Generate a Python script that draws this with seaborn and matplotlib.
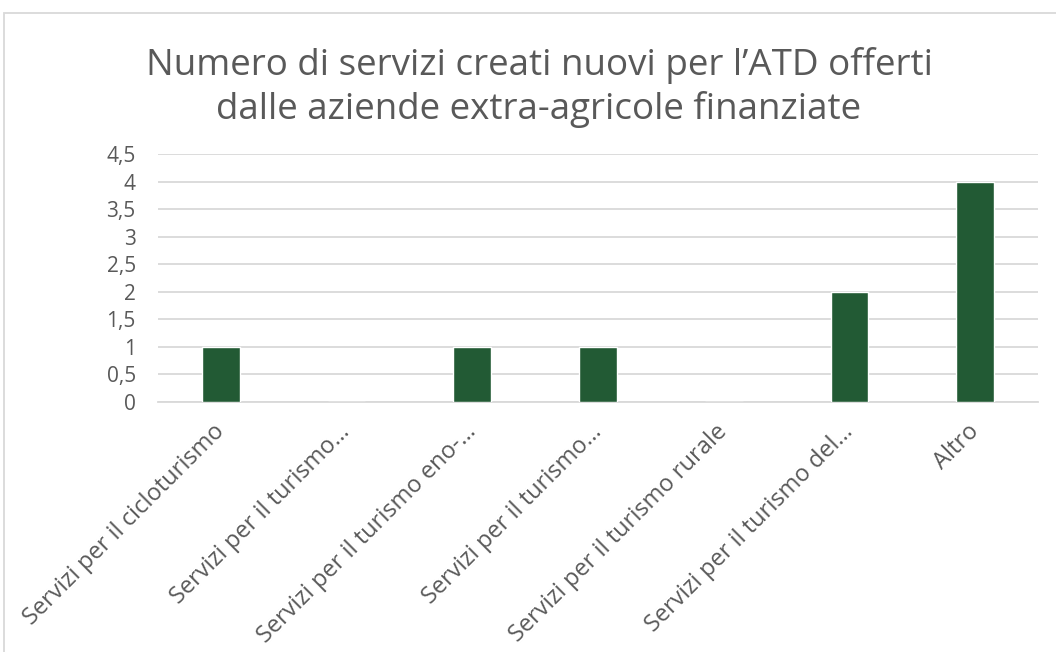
import pandas as pd
import seaborn as sns
import matplotlib.pyplot as plt
from matplotlib.patches import Rectangle

# Categories and counts
categories = [
    "Servizi per il cicloturismo",
    "Servizi per il turismo…",
    "Servizi per il turismo eno-…",
    "Servizi per il turismo…",
    "Servizi per il turismo rurale",
    "Servizi per il turismo del…",
    "Altro",
]
values = [1, 0, 1, 1, 0, 2, 4]
y_ticks = [0, 0.5, 1, 1.5, 2, 2.5, 3, 3.5, 4, 4.5]

df = pd.DataFrame({"pos": range(len(categories)), "value": values})

sns.set_theme(style="white")
plt.rcParams["font.family"] = ["Open Sans", "DejaVu Sans"]

fig = plt.figure(figsize=(10.56, 6.52), dpi=100)
ax = fig.add_axes([158 / 1056, 1 - 402 / 652, 880 / 1056, 248 / 652])

sns.barplot(data=df, x="pos", y="value", color="#225A34", width=0.3,
            saturation=1, ax=ax, zorder=3)

ax.set_ylim(0, 4.5)
ax.set_yticks(y_ticks)
ax.set_yticklabels([f"{t:g}".replace(".", ",") for t in y_ticks],
                   fontsize=15, color="#595959")
ax.yaxis.grid(True, color="#D9D9D9", linewidth=1.3, zorder=0)
ax.set_axisbelow(True)
ax.set_xlabel("")
ax.set_ylabel("")
ax.set_xticks(range(len(categories)))
ax.set_xticklabels(categories, rotation=45, ha="right", va="center",
                   rotation_mode="anchor", fontsize=17, color="#595959")
ax.tick_params(axis="y", length=0, pad=16)
ax.tick_params(axis="x", length=0, pad=19)
for side in ["left", "right", "top"]:
    ax.spines[side].set_visible(False)
ax.spines["bottom"].set_color("#D9D9D9")
ax.spines["bottom"].set_linewidth(1.3)

fig.text(539 / 1056, 1 - 87 / 652,
         "Numero di servizi creati nuovi per l’ATD offerti\ndalle aziende extra-agricole finanziate",
         ha="center", va="center", fontsize=26.5, color="#595959", linespacing=1.25)

# light frame around the chart area
fig.patches.append(Rectangle((4 / 1056, -0.02), 1.1, 1 - 13 / 652 + 0.02,
                             transform=fig.transFigure, fill=False,
                             edgecolor="#D9D9D9", linewidth=1.3))

fig.savefig("out.png", dpi=100)
